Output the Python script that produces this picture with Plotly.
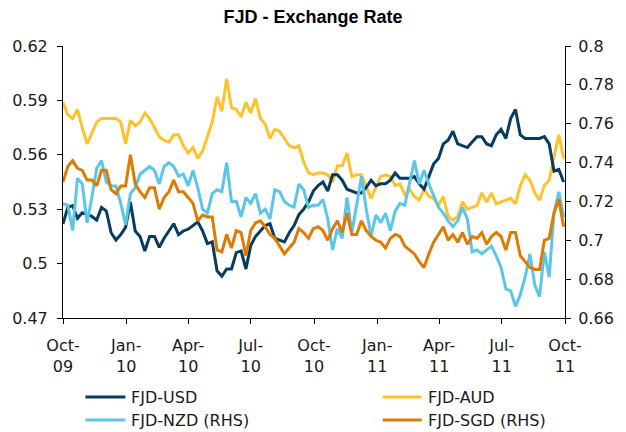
import pandas as pd
import plotly.graph_objects as go

# ---------------- data (weekly, Oct-2009 .. Sep-2011) ----------------
start_date = "2009-10-01"
n_weeks = 105

fjd_usd = [
    0.522, 0.531, 0.532, 0.525, 0.528, 0.527, 0.526, 0.524, 0.531, 0.529, 0.517, 0.513, 0.516, 0.520,
    0.534, 0.518, 0.515, 0.507, 0.515, 0.515, 0.509, 0.514, 0.518, 0.522, 0.516, 0.518, 0.519,
    0.521, 0.523, 0.518, 0.511, 0.512, 0.496, 0.493, 0.497, 0.497, 0.506, 0.507, 0.497, 0.510,
    0.515, 0.518, 0.521, 0.522, 0.514, 0.513, 0.512, 0.517, 0.521, 0.527, 0.530, 0.534, 0.540, 0.543,
    0.545, 0.540, 0.549, 0.549, 0.546, 0.541, 0.540, 0.539, 0.539, 0.542, 0.546, 0.543, 0.544,
    0.544, 0.546, 0.550, 0.547, 0.547, 0.547, 0.548, 0.544, 0.541, 0.548, 0.555, 0.558, 0.566,
    0.568, 0.573, 0.566, 0.565, 0.564, 0.567, 0.570, 0.570, 0.566, 0.565, 0.571, 0.574, 0.569,
    0.580, 0.585, 0.571, 0.569, 0.569, 0.569, 0.569, 0.570, 0.566, 0.551, 0.552, 0.545,
]
fjd_aud = [
    0.589, 0.582, 0.580, 0.585, 0.575, 0.566, 0.572, 0.578, 0.580, 0.580, 0.580, 0.580, 0.578, 0.566,
    0.579, 0.576, 0.578, 0.583, 0.580, 0.575, 0.570, 0.568, 0.567, 0.571, 0.571, 0.565, 0.561,
    0.564, 0.558, 0.562, 0.570, 0.578, 0.592, 0.584, 0.602, 0.586, 0.585, 0.581, 0.589, 0.583,
    0.591, 0.580, 0.577, 0.569, 0.574, 0.573, 0.569, 0.565, 0.564, 0.565, 0.556, 0.550, 0.549, 0.550,
    0.550, 0.549, 0.545, 0.554, 0.554, 0.561, 0.548, 0.549, 0.549, 0.542, 0.536, 0.542, 0.548,
    0.549, 0.548, 0.543, 0.544, 0.538, 0.541, 0.537, 0.535, 0.541, 0.537, 0.536, 0.532, 0.537,
    0.526, 0.524, 0.526, 0.534, 0.530, 0.531, 0.532, 0.539, 0.534, 0.539, 0.533, 0.534, 0.535,
    0.536, 0.533, 0.543, 0.549, 0.546, 0.539, 0.535, 0.543, 0.546, 0.559, 0.571, 0.558,
]
fjd_nzd = [
    0.719, 0.718, 0.705, 0.732, 0.729, 0.709, 0.722, 0.737, 0.741, 0.730, 0.728, 0.728, 0.719, 0.708,
    0.724, 0.727, 0.734, 0.736, 0.738, 0.736, 0.729, 0.738, 0.740, 0.738, 0.733, 0.734, 0.728,
    0.736, 0.727, 0.716, 0.714, 0.724, 0.726, 0.725, 0.740, 0.720, 0.720, 0.712, 0.722, 0.719,
    0.724, 0.714, 0.716, 0.711, 0.726, 0.725, 0.720, 0.718, 0.717, 0.729, 0.726, 0.717, 0.718, 0.718,
    0.721, 0.711, 0.695, 0.706, 0.701, 0.722, 0.704, 0.718, 0.733, 0.716, 0.702, 0.713, 0.709,
    0.714, 0.705, 0.715, 0.719, 0.718, 0.729, 0.741, 0.729, 0.736, 0.729, 0.723, 0.717, 0.714,
    0.710, 0.707, 0.710, 0.717, 0.711, 0.694, 0.695, 0.693, 0.695, 0.697, 0.692, 0.686, 0.675,
    0.674, 0.666, 0.672, 0.681, 0.693, 0.677, 0.671, 0.694, 0.681, 0.714, 0.725, 0.712,
]
fjd_sgd = [
    0.730, 0.738, 0.741, 0.737, 0.736, 0.731, 0.731, 0.728, 0.736, 0.736, 0.726, 0.724, 0.728, 0.728,
    0.744, 0.729, 0.725, 0.722, 0.727, 0.727, 0.716, 0.722, 0.725, 0.731, 0.725, 0.725, 0.722,
    0.719, 0.710, 0.713, 0.712, 0.712, 0.695, 0.694, 0.703, 0.696, 0.705, 0.704, 0.692, 0.705,
    0.709, 0.710, 0.707, 0.703, 0.701, 0.697, 0.693, 0.696, 0.699, 0.706, 0.704, 0.701, 0.706, 0.707,
    0.705, 0.700, 0.706, 0.710, 0.704, 0.714, 0.703, 0.703, 0.710, 0.705, 0.702, 0.700, 0.699,
    0.696, 0.701, 0.703, 0.702, 0.697, 0.695, 0.693, 0.689, 0.686, 0.693, 0.699, 0.703, 0.707,
    0.700, 0.703, 0.699, 0.704, 0.698, 0.702, 0.701, 0.704, 0.698, 0.702, 0.704, 0.702, 0.695,
    0.704, 0.704, 0.692, 0.689, 0.686, 0.685, 0.685, 0.700, 0.701, 0.714, 0.721, 0.707,
]

tick_dates = ["2009-10-01", "2010-01-01", "2010-04-01", "2010-07-01", "2010-10-01",
              "2011-01-01", "2011-04-01", "2011-07-01", "2011-10-01"]
tick_labels = ["Oct-<br>09", "Jan-<br>10", "Apr-<br>10", "Jul-<br>10", "Oct-<br>10",
               "Jan-<br>11", "Apr-<br>11", "Jul-<br>11", "Oct-<br>11"]

series_names = ["FJD-USD", "FJD-AUD", "FJD-NZD (RHS)", "FJD-SGD (RHS)"]
colors = ["#073C5E", "#FEC22C", "#5BC6EA", "#DE7B02"]

dates = pd.date_range(start_date, periods=n_weeks, freq="7D")

W, H = 626, 432
L, R, T, B = 59, 574, 46, 318

fig = go.Figure()
series = [fjd_usd, fjd_aud, fjd_nzd, fjd_sgd]
axes = ["y", "y", "y2", "y2"]
for i in [2, 3, 1, 0]:
    fig.add_trace(go.Scatter(x=dates, y=series[i], mode="lines", name=series_names[i],
                             yaxis=axes[i], line=dict(color=colors[i], width=3),
                             showlegend=False, hoverinfo="skip"))

font_main = "DejaVu Sans"
axis_common = dict(showline=True, linecolor="#000000", linewidth=1, ticks="outside",
                   ticklen=5, tickcolor="#000000", showgrid=False, zeroline=False,
                   tickfont=dict(family=font_main, size=16, color="#1a1a1a"))

fig.update_layout(
    width=W, height=H,
    margin=dict(l=L, r=W - R, t=T, b=H - B, pad=0),
    paper_bgcolor="white", plot_bgcolor="white",
    title=dict(text="<b>FJD - Exchange Rate</b>", x=0.5, xanchor="center", y=1 - 17 / H,
               yanchor="middle", font=dict(family="Liberation Sans", size=18, color="#000000")),
    xaxis=dict(type="date", range=[tick_dates[0], tick_dates[-1]], tickmode="array",
               tickvals=tick_dates, ticktext=tick_labels, ticklabelstandoff=8, **axis_common),
    yaxis=dict(range=[0.47, 0.62], tick0=0.47, dtick=0.03, ticklabelstandoff=6, **axis_common),
    yaxis2=dict(range=[0.66, 0.80], tick0=0.66, dtick=0.02, overlaying="y", side="right",
                ticklabelstandoff=4, **axis_common),
    # inner half of the right-hand tick marks (ticks cross the axis in the original)
    yaxis3=dict(range=[0.66, 0.80], tick0=0.66, dtick=0.02, overlaying="y", side="right",
                anchor="x", ticks="inside", ticklen=5, tickcolor="#000000",
                showticklabels=False, showline=False, showgrid=False, zeroline=False),
    showlegend=False,
)

# manual legend (two columns, two rows)
def px_x(p):
    return (p - L) / (R - L)

def px_y(p):
    return (B - p) / (B - T)

legend_pos = [(82, 123, 397), (387, 427, 397), (82, 123, 420), (387, 427, 420)]
for i, (x0, x1, yy) in enumerate(legend_pos):
    fig.add_shape(type="line", xref="paper", yref="paper", x0=px_x(x0), x1=px_x(x1),
                  y0=px_y(yy), y1=px_y(yy), line=dict(color=colors[i], width=3))
    fig.add_annotation(xref="paper", yref="paper", x=px_x(x1 + 4), y=px_y(yy),
                       xanchor="left", yanchor="middle", showarrow=False,
                       text=series_names[i],
                       font=dict(family=font_main, size=16, color="#1a1a1a"))

fig.write_html("out.html", config={"displayModeBar": False},
               post_script="document.body.style.margin='0';document.body.style.overflow='hidden';")
